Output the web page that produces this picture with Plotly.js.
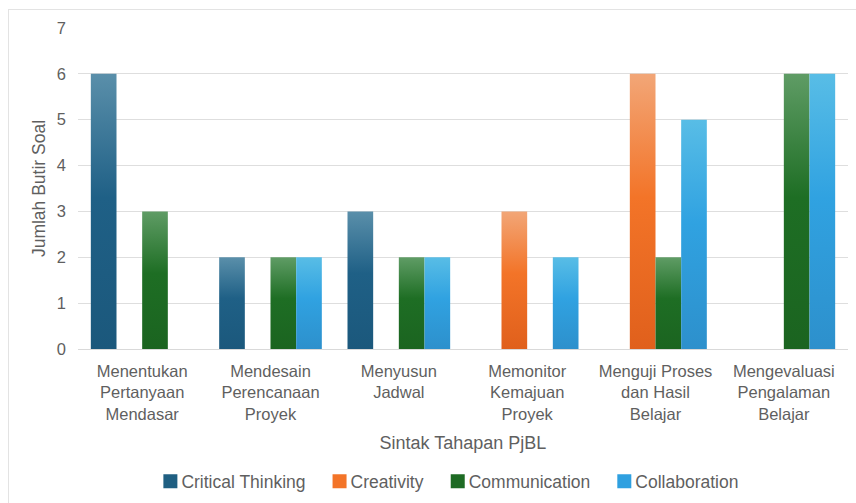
<!DOCTYPE html>
<html>
<head>
<meta charset="utf-8">
<script src="https://cdn.plot.ly/plotly-3.0.1.min.js"></script>
<style>
html,body{margin:0;padding:0;background:#fff;overflow:hidden;}
#frame{position:absolute;left:8px;top:9px;width:848px;height:494px;border-left:1px solid #e3e3e3;border-top:1px solid #e3e3e3;box-sizing:border-box;}
#chart{width:847px;height:493px;}
</style>
</head>
<body>
<div id="frame"><div id="chart"></div></div>
<script>
const categories = [
  "Menentukan<br>Pertanyaan<br>Mendasar",
  "Mendesain<br>Perencanaan<br>Proyek",
  "Menyusun<br>Jadwal",
  "Memonitor<br>Kemajuan<br>Proyek",
  "Menguji Proses<br>dan Hasil<br>Belajar",
  "Mengevaluasi<br>Pengalaman<br>Belajar"
];
const seriesNames = ["Critical Thinking", "Creativity", "Communication", "Collaboration"];
const criticalThinking = [6, 2, 3, 0, 0, 0];
const creativity       = [0, 0, 0, 3, 6, 0];
const communication    = [3, 2, 2, 0, 2, 6];
const collaboration    = [0, 2, 2, 2, 5, 6];
const yTicks = [0, 1, 2, 3, 4, 5, 6, 7];

const solid = ["#1f5f82", "#f37428", "#1e6b24", "#2fa0e0"];
const grads = [
  ["#5a8faa", "#1f6086", "#1b587c"],
  ["#f2a677", "#f37428", "#e0601c"],
  ["#5f9c65", "#1e6e24", "#1b6420"],
  ["#58bde6", "#30a2e1", "#2d90cc"]
];
const values = [criticalThinking, creativity, communication, collaboration];

const font = "'Liberation Sans', Arial, sans-serif";
const txtColor = "#5f5f5f";
const traces = values.map((v, i) => ({
  type: "bar",
  name: seriesNames[i],
  x: categories,
  y: v,
  marker: {color: solid[i], line: {width: 0}},
  hoverinfo: "x+y+name"
}));

const layout = {
  width: 847, height: 493,
  margin: {l: 69, r: 8, t: 18, b: 154, autoexpand: false},
  paper_bgcolor: "#ffffff",
  plot_bgcolor: "#ffffff",
  font: {family: font, size: 16, color: txtColor},
  barmode: "group",
  bargap: 0.2,
  bargroupgap: 0,
  showlegend: true,
  legend: {
    orientation: "h", x: 0.094, xanchor: "left", y: -0.412, yanchor: "middle",
    font: {family: font, size: 17.5, color: txtColor},
    itemwidth: 30, tracegroupgap: 0
  },
  xaxis: {
    type: "category", automargin: false,
    tickfont: {family: font, size: 16.5, color: txtColor},
    showline: true, linecolor: "#d9d9d9", linewidth: 1,
    ticks: "", showgrid: false,
    ticklabelstandoff: 7,
    title: {text: "Sintak Tahapan PjBL", font: {family: font, size: 18, color: txtColor}, standoff: 14}
  },
  yaxis: {
    range: [0, 7], automargin: false,
    tickvals: yTicks,
    ticktext: yTicks.map(String),
    tickfont: {family: font, size: 16.5, color: txtColor},
    showgrid: true, gridcolor: "#dedede", gridwidth: 1,
    zeroline: false, showline: false, ticks: "",
    ticklabelstandoff: 11,
    title: {text: "Jumlah Butir Soal", font: {family: font, size: 17.5, color: txtColor}, standoff: 6}
  }
};

function applyGradients(gd) {
  const svg = gd.querySelector("svg.main-svg");
  if (!svg) return;
  let defs = svg.querySelector("defs");
  if (!defs) { defs = document.createElementNS("http://www.w3.org/2000/svg", "defs"); svg.insertBefore(defs, svg.firstChild); }
  grads.forEach((g, i) => {
    const id = "bargrad" + i;
    if (!svg.querySelector("#" + id)) {
      const lg = document.createElementNS("http://www.w3.org/2000/svg", "linearGradient");
      lg.setAttribute("id", id);
      lg.setAttribute("x1", "0"); lg.setAttribute("y1", "0");
      lg.setAttribute("x2", "0"); lg.setAttribute("y2", "1");
      [[0, g[0]], [0.45, g[1]], [1, g[2]]].forEach(([o, c]) => {
        const s = document.createElementNS("http://www.w3.org/2000/svg", "stop");
        s.setAttribute("offset", o); s.setAttribute("stop-color", c);
        lg.appendChild(s);
      });
      defs.appendChild(lg);
    }
  });
  gd.querySelectorAll(".barlayer .trace").forEach((tg, i) => {
    tg.querySelectorAll("path").forEach(p => { p.style.fill = "url(#bargrad" + i + ")"; });
  });
  // tighten legend entries: larger swatch, text close to it
  gd.querySelectorAll(".legend .traces").forEach(tr => {
    const t = tr.querySelector("text.legendtext");
    if (t) t.setAttribute("x", "31");
    const sym = tr.querySelector(".legendpoints path");
    if (sym) sym.setAttribute("d", "M7,7H-7V-7H7Z");
  });
}

Plotly.newPlot("chart", traces, layout, {displayModeBar: false, responsive: false}).then(gd => {
  applyGradients(gd);
  gd.on("plotly_afterplot", () => applyGradients(gd));
});
</script>
</body>
</html>
